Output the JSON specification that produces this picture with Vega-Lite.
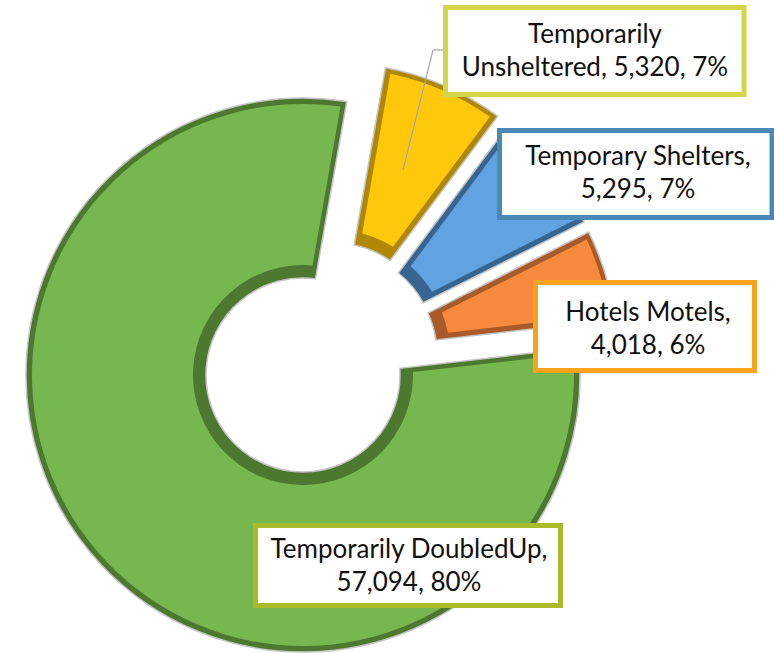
{
  "$schema": "https://vega.github.io/schema/vega-lite/v6.json",
  "width": 774,
  "height": 653,
  "autosize": "none",
  "padding": 0,
  "background": "white",
  "config": {"view": {"stroke": null}},
  "data": {
    "values": [
      {"category": "Temporarily Unsheltered", "count": 5320, "percent": 7, "rank": 1, "label": ["Temporarily", "Unsheltered, 5,320, 7%"]},
      {"category": "Temporary Shelters", "count": 5295, "percent": 7, "rank": 2, "label": ["Temporary Shelters,", "5,295, 7%"]},
      {"category": "Hotels Motels", "count": 4018, "percent": 6, "rank": 3, "label": ["Hotels Motels,", "4,018, 6%"]},
      {"category": "Temporarily DoubledUp", "count": 57094, "percent": 80, "rank": 4, "label": ["Temporarily DoubledUp,", "57,094, 80%"]}
    ]
  },
  "layer": [
    {
      "mark": {"type": "arc", "innerRadius": 97, "outerRadius": 277, "padAngle": 0.03, "fill": "#4c7830", "stroke": "#c4c4c4", "strokeWidth": 1.5},
      "encoding": {
        "theta": {"field": "count", "type": "quantitative", "stack": true, "scale": {"range": [0.1745, 6.4577]}},
        "order": {"field": "rank", "type": "quantitative", "sort": "ascending"},
        "x": {"datum": 0, "type": "quantitative", "scale": {"domain": [-1.08993, 1.69424], "nice": false, "zero": false}, "axis": null},
        "y": {"datum": 0, "type": "quantitative", "scale": {"domain": [-1.0, 1.34892], "nice": false, "zero": false}, "axis": null},
        "opacity": {"condition": {"test": "datum.category === 'Temporarily DoubledUp'", "value": 1}, "value": 0}
      }
    },
    {
      "mark": {"type": "arc", "innerRadius": 110, "outerRadius": 271, "padAngle": 0.066},
      "encoding": {
        "theta": {"field": "count", "type": "quantitative", "stack": true, "scale": {"range": [0.1745, 6.4577]}},
        "order": {"field": "rank", "type": "quantitative", "sort": "ascending"},
        "x": {"datum": 0, "type": "quantitative", "scale": {"domain": [-1.08993, 1.69424], "nice": false, "zero": false}, "axis": null},
        "y": {"datum": 0, "type": "quantitative", "scale": {"domain": [-1.0, 1.34892], "nice": false, "zero": false}, "axis": null},
        "color": {"field": "category", "type": "nominal", "legend": null, "scale": {"domain": ["Temporarily Unsheltered", "Temporary Shelters", "Hotels Motels", "Temporarily DoubledUp"], "range": ["#ffc80a", "#61a3e2", "#f78a3c", "#77b74f"]}},
        "opacity": {"condition": {"test": "datum.category === 'Temporarily DoubledUp'", "value": 1}, "value": 0}
      }
    },
    {
      "mark": {"type": "arc", "innerRadius": 97, "outerRadius": 277, "padAngle": 0.02, "fill": "#af8700", "stroke": "#c4c4c4", "strokeWidth": 1.5},
      "encoding": {
        "theta": {"field": "count", "type": "quantitative", "stack": true, "scale": {"range": [0.1745, 6.4577]}},
        "order": {"field": "rank", "type": "quantitative", "sort": "ascending"},
        "x": {"datum": 0.1133, "type": "quantitative", "scale": {"domain": [-1.08993, 1.69424], "nice": false, "zero": false}, "axis": null},
        "y": {"datum": 0.1259, "type": "quantitative", "scale": {"domain": [-1.0, 1.34892], "nice": false, "zero": false}, "axis": null},
        "opacity": {"condition": {"test": "datum.category === 'Temporarily Unsheltered'", "value": 1}, "value": 0}
      }
    },
    {
      "mark": {"type": "arc", "innerRadius": 110, "outerRadius": 272, "padAngle": 0.06},
      "encoding": {
        "theta": {"field": "count", "type": "quantitative", "stack": true, "scale": {"range": [0.1745, 6.4577]}},
        "order": {"field": "rank", "type": "quantitative", "sort": "ascending"},
        "x": {"datum": 0.1133, "type": "quantitative", "scale": {"domain": [-1.08993, 1.69424], "nice": false, "zero": false}, "axis": null},
        "y": {"datum": 0.1259, "type": "quantitative", "scale": {"domain": [-1.0, 1.34892], "nice": false, "zero": false}, "axis": null},
        "color": {"field": "category", "type": "nominal", "legend": null},
        "opacity": {"condition": {"test": "datum.category === 'Temporarily Unsheltered'", "value": 1}, "value": 0}
      }
    },
    {
      "mark": {"type": "arc", "innerRadius": 97, "outerRadius": 277, "padAngle": 0.02, "fill": "#386491", "stroke": "#c4c4c4", "strokeWidth": 1.5},
      "encoding": {
        "theta": {"field": "count", "type": "quantitative", "stack": true, "scale": {"range": [0.1745, 6.4577]}},
        "order": {"field": "rank", "type": "quantitative", "sort": "ascending"},
        "x": {"datum": 0.1259, "type": "quantitative", "scale": {"domain": [-1.08993, 1.69424], "nice": false, "zero": false}, "axis": null},
        "y": {"datum": 0.0935, "type": "quantitative", "scale": {"domain": [-1.0, 1.34892], "nice": false, "zero": false}, "axis": null},
        "opacity": {"condition": {"test": "datum.category === 'Temporary Shelters'", "value": 1}, "value": 0}
      }
    },
    {
      "mark": {"type": "arc", "innerRadius": 110, "outerRadius": 272, "padAngle": 0.06},
      "encoding": {
        "theta": {"field": "count", "type": "quantitative", "stack": true, "scale": {"range": [0.1745, 6.4577]}},
        "order": {"field": "rank", "type": "quantitative", "sort": "ascending"},
        "x": {"datum": 0.1259, "type": "quantitative", "scale": {"domain": [-1.08993, 1.69424], "nice": false, "zero": false}, "axis": null},
        "y": {"datum": 0.0935, "type": "quantitative", "scale": {"domain": [-1.0, 1.34892], "nice": false, "zero": false}, "axis": null},
        "color": {"field": "category", "type": "nominal", "legend": null},
        "opacity": {"condition": {"test": "datum.category === 'Temporary Shelters'", "value": 1}, "value": 0}
      }
    },
    {
      "mark": {"type": "arc", "innerRadius": 97, "outerRadius": 277, "padAngle": 0.02, "fill": "#aa5a28", "stroke": "#c4c4c4", "strokeWidth": 1.5},
      "encoding": {
        "theta": {"field": "count", "type": "quantitative", "stack": true, "scale": {"range": [0.1745, 6.4577]}},
        "order": {"field": "rank", "type": "quantitative", "sort": "ascending"},
        "x": {"datum": 0.1331, "type": "quantitative", "scale": {"domain": [-1.08993, 1.69424], "nice": false, "zero": false}, "axis": null},
        "y": {"datum": 0.0755, "type": "quantitative", "scale": {"domain": [-1.0, 1.34892], "nice": false, "zero": false}, "axis": null},
        "opacity": {"condition": {"test": "datum.category === 'Hotels Motels'", "value": 1}, "value": 0}
      }
    },
    {
      "mark": {"type": "arc", "innerRadius": 110, "outerRadius": 272, "padAngle": 0.06},
      "encoding": {
        "theta": {"field": "count", "type": "quantitative", "stack": true, "scale": {"range": [0.1745, 6.4577]}},
        "order": {"field": "rank", "type": "quantitative", "sort": "ascending"},
        "x": {"datum": 0.1331, "type": "quantitative", "scale": {"domain": [-1.08993, 1.69424], "nice": false, "zero": false}, "axis": null},
        "y": {"datum": 0.0755, "type": "quantitative", "scale": {"domain": [-1.0, 1.34892], "nice": false, "zero": false}, "axis": null},
        "color": {"field": "category", "type": "nominal", "legend": null},
        "opacity": {"condition": {"test": "datum.category === 'Hotels Motels'", "value": 1}, "value": 0}
      }
    },
    {
      "transform": [{"filter": "datum.category === 'Temporarily Unsheltered'"}],
      "layer": [
        {
          "mark": {"type": "rule", "color": "#a6a6a6", "strokeWidth": 1.2},
          "encoding": {
            "x": {"datum": 0.3597, "type": "quantitative", "scale": {"domain": [-1.08993, 1.69424], "nice": false, "zero": false}, "axis": null},
            "y": {"datum": 0.7374, "type": "quantitative", "scale": {"domain": [-1.0, 1.34892], "nice": false, "zero": false}, "axis": null},
            "x2": {"datum": 0.4676},
            "y2": {"datum": 1.1691}
          }
        },
        {
          "mark": {"type": "rule", "color": "#a6a6a6", "strokeWidth": 1.2},
          "encoding": {
            "x": {"datum": 0.4676, "type": "quantitative", "scale": {"domain": [-1.08993, 1.69424], "nice": false, "zero": false}, "axis": null},
            "y": {"datum": 1.1691, "type": "quantitative", "scale": {"domain": [-1.0, 1.34892], "nice": false, "zero": false}, "axis": null},
            "x2": {"datum": 0.5126},
            "y2": {"datum": 1.1691}
          }
        },
        {
          "mark": {"type": "rect", "fill": "white", "stroke": "#d4d64a", "strokeWidth": 5},
          "encoding": {
            "x": {"datum": 0.5126, "type": "quantitative", "scale": {"domain": [-1.08993, 1.69424], "nice": false, "zero": false}, "axis": null},
            "x2": {"datum": 1.5863},
            "y": {"datum": 1.3219, "type": "quantitative", "scale": {"domain": [-1.0, 1.34892], "nice": false, "zero": false}, "axis": null},
            "y2": {"datum": 1.0090}
          }
        },
        {
          "mark": {"type": "text", "font": "Lato", "fontSize": 26, "lineHeight": 33, "align": "center", "baseline": "middle", "color": "#111111"},
          "encoding": {
            "x": {"datum": 1.0504, "type": "quantitative", "scale": {"domain": [-1.08993, 1.69424], "nice": false, "zero": false}, "axis": null},
            "y": {"datum": 1.2230, "type": "quantitative", "scale": {"domain": [-1.0, 1.34892], "nice": false, "zero": false}, "axis": null},
            "text": {"field": "label", "type": "nominal"}
          }
        }
      ]
    },
    {
      "transform": [{"filter": "datum.category === 'Temporary Shelters'"}],
      "layer": [
        {
          "mark": {"type": "rect", "fill": "white", "stroke": "#4a89b5", "strokeWidth": 5},
          "encoding": {
            "x": {"datum": 0.7068, "type": "quantitative", "scale": {"domain": [-1.08993, 1.69424], "nice": false, "zero": false}, "axis": null},
            "x2": {"datum": 1.6871},
            "y": {"datum": 0.8795, "type": "quantitative", "scale": {"domain": [-1.0, 1.34892], "nice": false, "zero": false}, "axis": null},
            "y2": {"datum": 0.5665}
          }
        },
        {
          "mark": {"type": "text", "font": "Lato", "fontSize": 26, "lineHeight": 33, "align": "center", "baseline": "middle", "color": "#111111"},
          "encoding": {
            "x": {"datum": 1.2050, "type": "quantitative", "scale": {"domain": [-1.08993, 1.69424], "nice": false, "zero": false}, "axis": null},
            "y": {"datum": 0.7842, "type": "quantitative", "scale": {"domain": [-1.0, 1.34892], "nice": false, "zero": false}, "axis": null},
            "text": {"field": "label", "type": "nominal"}
          }
        }
      ]
    },
    {
      "transform": [{"filter": "datum.category === 'Hotels Motels'"}],
      "layer": [
        {
          "mark": {"type": "rect", "fill": "white", "stroke": "#f9a21c", "strokeWidth": 5},
          "encoding": {
            "x": {"datum": 0.8363, "type": "quantitative", "scale": {"domain": [-1.08993, 1.69424], "nice": false, "zero": false}, "axis": null},
            "x2": {"datum": 1.6241},
            "y": {"datum": 0.3327, "type": "quantitative", "scale": {"domain": [-1.0, 1.34892], "nice": false, "zero": false}, "axis": null},
            "y2": {"datum": 0.0162}
          }
        },
        {
          "mark": {"type": "text", "font": "Lato", "fontSize": 26, "lineHeight": 33, "align": "center", "baseline": "middle", "color": "#111111"},
          "encoding": {
            "x": {"datum": 1.2410, "type": "quantitative", "scale": {"domain": [-1.08993, 1.69424], "nice": false, "zero": false}, "axis": null},
            "y": {"datum": 0.2230, "type": "quantitative", "scale": {"domain": [-1.0, 1.34892], "nice": false, "zero": false}, "axis": null},
            "text": {"field": "label", "type": "nominal"}
          }
        }
      ]
    },
    {
      "transform": [{"filter": "datum.category === 'Temporarily DoubledUp'"}],
      "layer": [
        {
          "mark": {"type": "rect", "fill": "white", "stroke": "#a9ba2a", "strokeWidth": 5},
          "encoding": {
            "x": {"datum": -0.1709, "type": "quantitative", "scale": {"domain": [-1.08993, 1.69424], "nice": false, "zero": false}, "axis": null},
            "x2": {"datum": 0.9263},
            "y": {"datum": -0.5414, "type": "quantitative", "scale": {"domain": [-1.0, 1.34892], "nice": false, "zero": false}, "axis": null},
            "y2": {"datum": -0.8291}
          }
        },
        {
          "mark": {"type": "text", "font": "Lato", "fontSize": 26, "lineHeight": 33, "align": "center", "baseline": "middle", "color": "#111111"},
          "encoding": {
            "x": {"datum": 0.3813, "type": "quantitative", "scale": {"domain": [-1.08993, 1.69424], "nice": false, "zero": false}, "axis": null},
            "y": {"datum": -0.6295, "type": "quantitative", "scale": {"domain": [-1.0, 1.34892], "nice": false, "zero": false}, "axis": null},
            "text": {"field": "label", "type": "nominal"}
          }
        }
      ]
    }
  ]
}
